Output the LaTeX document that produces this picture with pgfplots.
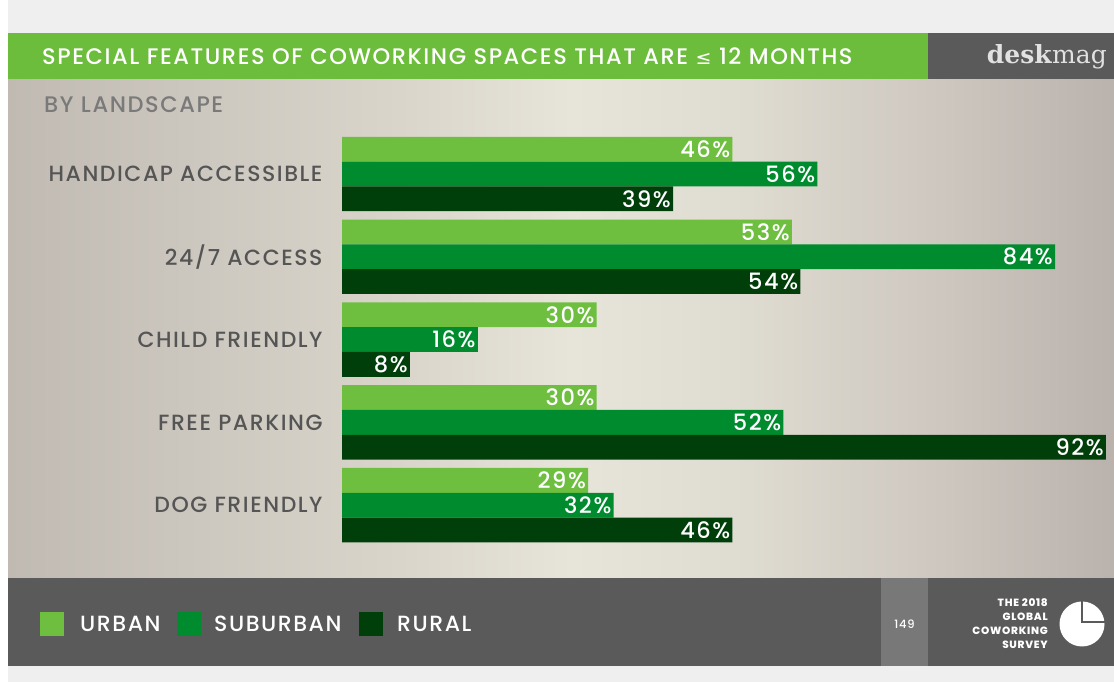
\documentclass[border=0pt]{standalone}
\usepackage{pgfplots}
\pgfplotsset{compat=1.18}
\usepackage{fontspec}
\IfFontExistsTF{Poppins Medium}{\setmainfont{Poppins Medium}[LetterSpace=7]}{\setmainfont{Poppins}[LetterSpace=7, FakeBold=0.35]}
\newfontfamily\logofont{DejaVu Serif}
\newfontfamily\symfont{DejaVu Sans}
\definecolor{urban}{HTML}{6EBF40}
\definecolor{suburban}{HTML}{008B2F}
\definecolor{rural}{HTML}{003F0A}
\definecolor{titlegreen}{HTML}{6CBD3B}
\definecolor{darkbar}{HTML}{5A5A5A}
\definecolor{pagebox}{HTML}{787878}
\definecolor{catgray}{HTML}{555555}
\definecolor{subgray}{HTML}{7A7A7A}
\definecolor{bgA}{RGB}{192,186,178}
\definecolor{bgB}{RGB}{205,200,191}
\definecolor{bgC}{RGB}{217,213,203}
\definecolor{bgD}{RGB}{231,228,218}
\definecolor{bgE}{RGB}{222,219,208}
\definecolor{bgF}{RGB}{205,198,191}
\definecolor{bgG}{RGB}{186,178,172}
\pgfdeclarehorizontalshading{bgshade}{100bp}{color(0bp)=(bgA); color(25bp)=(bgA); color(33.7bp)=(bgB); color(42.7bp)=(bgC); color(50.5bp)=(bgD); color(58.5bp)=(bgE); color(67.6bp)=(bgF); color(75bp)=(bgG); color(100bp)=(bgG)}
\begin{document}
\begin{tikzpicture}[x=1pt,y=1pt]
% page background
\fill[color={rgb,255:red,239;green,239;blue,239}] (0,0) rectangle (1114,682);
\fill[white] (0,0) rectangle (8,682);
% title bar
\fill[titlegreen] (8,649) rectangle (928,602);
\fill[darkbar] (928,649) rectangle (1114,602);
\node[anchor=west, text=white, font=\fontsize{22.5}{26}\selectfont, inner sep=0] at (42,625.5) {SPECIAL FEATURES OF COWORKING SPACES THAT ARE {\symfont\fontsize{19}{20}\selectfont ≤} 12 MONTHS};
\node[anchor=east, text={rgb,255:red,225;green,225;blue,225}, font=\logofont\fontsize{25}{28}\selectfont, inner sep=0] at (1107,625.5) {\textbf{desk}mag};
% main background
\shade[shading=bgshade] (8,602) rectangle (1114,104);
\node[anchor=west, text=subgray, font=\fontsize{22.5}{26}\selectfont, inner sep=0] at (44,577) {BY LANDSCAPE};
% footer
\fill[darkbar] (8,104) rectangle (1114,16);
\fill[pagebox] (881,104) rectangle (928,16);
\node[text=white, font=\fontsize{11.5}{13}\selectfont, inner sep=0] at (904.5,58) {149};
\node[anchor=east, text=white, align=right, font=\bfseries\fontsize{10.5}{14}\selectfont, inner sep=0] at (1048,58) {THE 2018\\GLOBAL\\COWORKING\\SURVEY};
\fill[white] (1082,58) circle (22.5);
\draw[darkbar, line width=2.2pt] (1082,81) -- (1082,60) -- (1105,60);
% legend
\fill[urban] (40,46) rectangle (64,70);
\node[anchor=west, text=white, font=\fontsize{22}{26}\selectfont, inner sep=0] at (80,58) {URBAN};
\fill[suburban] (177,46) rectangle (201,70);
\node[anchor=west, text=white, font=\fontsize{22}{26}\selectfont, inner sep=0] at (214,58) {SUBURBAN};
\fill[rural] (359,46) rectangle (383,70);
\node[anchor=west, text=white, font=\fontsize{22}{26}\selectfont, inner sep=0] at (397,58) {RURAL};
% chart
\begin{axis}[
  at={(342pt,135.4pt)}, anchor=south west,
  scale only axis, width=764pt, height=414pt,
  xmin=0, xmax=90, ymin=-0.5, ymax=4.5,
  xbar, bar width=24.8pt,
  hide x axis,
  axis y line*=left,
  y axis line style={draw=none},
  ytick style={draw=none},
  ytick={0,1,2,3,4},
  yticklabels={DOG FRIENDLY,FREE PARKING,CHILD FRIENDLY,24/7 ACCESS,HANDICAP ACCESSIBLE},
  yticklabel style={font=\fontsize{22}{26}\selectfont, text=catgray, inner sep=0, anchor=east, xshift=-15pt},
  clip=true,
]
\addplot[fill=urban, draw=none, bar shift=24.8pt] coordinates {(46,4) (53,3) (30,2) (30,1) (29,0)};
\addplot[fill=suburban, draw=none, bar shift=0pt] coordinates {(56,4) (84,3) (16,2) (52,1) (32,0)};
\addplot[fill=rural, draw=none, bar shift=-24.8pt] coordinates {(39,4) (54,3) (8,2) (92,1) (46,0)};
% value labels (x position held at the axis end for the clipped 92 bar)
\addplot[draw=none, no markers, xbar=0pt, bar shift=0pt, nodes near coords, point meta=explicit symbolic,
  every node near coord/.style={anchor=east, text=white, inner sep=2pt, font=\fontsize{22.5}{26}\selectfont}]
  table[x=x, y=y, meta=lab] {
x y lab
46 4.3 46\%
53 3.3 53\%
30 2.3 30\%
30 1.3 30\%
29 0.3 29\%
56 4 56\%
84 3 84\%
16 2 16\%
52 1 52\%
32 0 32\%
39 3.7 39\%
54 2.7 54\%
8 1.7 8\%
90 0.7 92\%
46 -0.3 46\%
};
\end{axis}
\end{tikzpicture}
\end{document}
